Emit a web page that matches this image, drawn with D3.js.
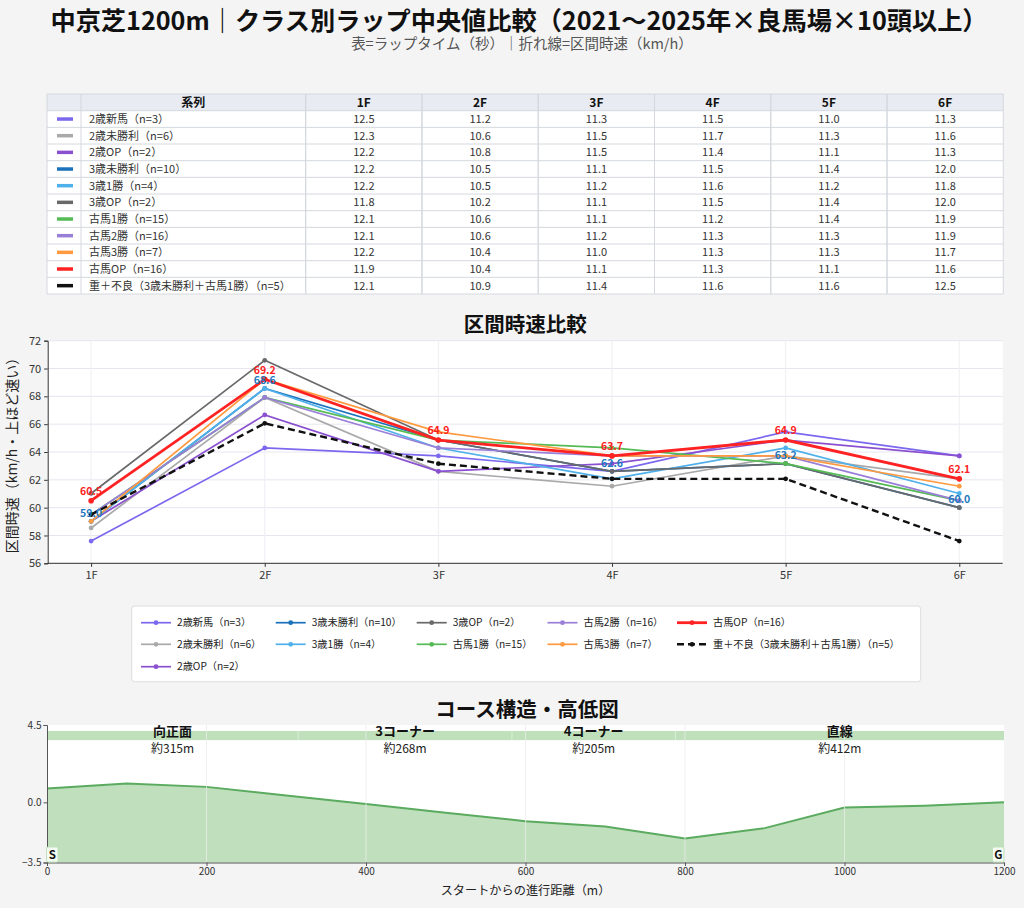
<!DOCTYPE html>
<html><head><meta charset="utf-8">
<script src="https://cdn.jsdelivr.net/npm/d3@7"></script>
<style>
body{margin:0;background:#f4f4f4;}
svg{display:block}
text{font-family:"Noto Sans CJK JP","Noto Sans","DejaVu Sans",sans-serif}
</style>
</head><body><svg id="c" width="1024" height="908"></svg>
<script>
// ---------- DATA ----------
const seriesNames = ["2歳新馬（n=3）","2歳未勝利（n=6）","2歳OP（n=2）","3歳未勝利（n=10）","3歳1勝（n=4）","3歳OP（n=2）","古馬1勝（n=15）","古馬2勝（n=16）","古馬3勝（n=7）","古馬OP（n=16）","重＋不良（3歳未勝利＋古馬1勝）（n=5）"];
const seriesColors = ["#7b68ee","#a9a9a9","#8a50d0","#1a72bb","#4fb0ea","#696969","#55bb55","#9a7fd8","#ff9a40","#ff2222","#111111"];
const sections = ["1F","2F","3F","4F","5F","6F"];
// lap times (sec) shown in the table
const lap2yNew   = [12.5,11.2,11.3,11.5,11.0,11.3];
const lap2yMaiden= [12.3,10.6,11.5,11.7,11.3,11.6];
const lap2yOP    = [12.2,10.8,11.5,11.4,11.1,11.3];
const lap3yMaiden= [12.2,10.5,11.1,11.5,11.4,12.0];
const lap3y1win  = [12.2,10.5,11.2,11.6,11.2,11.8];
const lap3yOP    = [11.8,10.2,11.1,11.5,11.4,12.0];
const lapOld1win = [12.1,10.6,11.1,11.2,11.4,11.9];
const lapOld2win = [12.1,10.6,11.2,11.3,11.3,11.9];
const lapOld3win = [12.2,10.4,11.0,11.3,11.3,11.7];
const lapOldOP   = [11.9,10.4,11.1,11.3,11.1,11.6];
const lapHeavy   = [12.1,10.9,11.4,11.6,11.6,12.5];
const lapTable = [lap2yNew,lap2yMaiden,lap2yOP,lap3yMaiden,lap3y1win,lap3yOP,lapOld1win,lapOld2win,lapOld3win,lapOldOP,lapHeavy];
// section speeds (km/h)
const spd2yNew   = [57.60,64.29,63.72,62.61,65.45,63.72];
const spd2yMaiden= [58.54,67.92,62.61,61.54,63.72,62.07];
const spd2yOP    = [59.02,66.67,62.61,63.16,64.86,63.72];
const spd3yMaiden= [59.02,68.57,64.86,62.61,63.16,60.00];
const spd3y1win  = [59.02,68.57,64.29,62.07,64.29,61.02];
const spd3yOP    = [61.02,70.59,64.86,62.61,63.16,60.00];
const spdOld1win = [59.50,67.92,64.86,64.29,63.16,60.50];
const spdOld2win = [59.50,67.92,64.29,63.72,63.72,60.50];
const spdOld3win = [59.02,69.23,65.45,63.72,63.72,61.54];
const spdOldOP   = [60.50,69.23,64.86,63.72,64.86,62.07];
const spdHeavy   = [59.50,66.06,63.16,62.07,62.07,57.60];
const speedSeries = [spd2yNew,spd2yMaiden,spd2yOP,spd3yMaiden,spd3y1win,spd3yOP,spdOld1win,spdOld2win,spdOld3win,spdOldOP,spdHeavy];
const speedTicks = [56,58,60,62,64,66,68,70,72];
// annotated values
const redLabelIdx  = [0,1,2,3,4,5];   // 古馬OP
const blueLabelIdx = [0,1,3,4,5];     // 3歳未勝利
// course profile
const elevDist   = [0,100,200,300,400,500,600,700,800,900,1000,1100,1200];
const elevHeight = [0.8,1.1,0.9,0.4,-0.1,-0.6,-1.1,-1.4,-2.1,-1.5,-0.3,-0.2,0.0];
const elevTicks  = [-3.5,0.0,4.5];
const distTicks  = [0,200,400,600,800,1000,1200];
const courseNames = ["向正面","3コーナー","4コーナー","直線"];
const courseStart = [0,315,583,788];
const courseEnd   = [315,583,788,1200];
const courseLenLabels = ["約315m","約268m","約205m","約412m"];

// ---------- DRAW ----------
const svg = d3.select("#c");
svg.append("rect").attr("width",1024).attr("height",908).attr("fill","#f4f4f4");

svg.append("text").attr("x",519).attr("y",29.5).attr("text-anchor","middle")
  .attr("font-size",25.2).attr("font-weight","bold").attr("fill","#111")
  .text("中京芝1200m｜クラス別ラップ中央値比較（2021〜2025年×良馬場×10頭以上）");
svg.append("text").attr("x",522).attr("y",48.5).attr("text-anchor","middle")
  .attr("font-size",14.5).attr("fill","#555")
  .text("表=ラップタイム（秒）｜折れ線=区間時速（km/h）");

// ---- table ----
const tX0 = 47, tSw = 81, tLab = 305.7, tX1 = 1003.3;
const tHeadTop = 94, tHeadBot = 110.7, tBot = 294;
const colX = d3.scaleBand().domain(sections).range([tLab,tX1]);
const rowY = d3.scaleBand().domain(seriesNames).range([tHeadBot,tBot]);
const tg = svg.append("g");
tg.append("rect").attr("x",tX0).attr("y",tHeadTop).attr("width",tX1-tX0).attr("height",tHeadBot-tHeadTop).attr("fill","#e8ecf2");
tg.append("rect").attr("x",tX0).attr("y",tHeadBot).attr("width",tX1-tX0).attr("height",tBot-tHeadBot).attr("fill","#ffffff");
const vlines = [tX0,tSw,tLab].concat(sections.map(s=>colX(s)+colX.bandwidth())).concat(sections.map(s=>colX(s)));
vlines.forEach(x=>tg.append("line").attr("x1",x).attr("x2",x).attr("y1",tHeadTop).attr("y2",tBot).attr("stroke","#d4d8de").attr("stroke-width",1));
[tHeadTop].concat(seriesNames.map(n=>rowY(n))).concat([tBot]).forEach(y=>
  tg.append("line").attr("x1",tX0).attr("x2",tX1).attr("y1",y).attr("y2",y).attr("stroke","#d4d8de").attr("stroke-width",1));
tg.append("text").attr("x",(tSw+tLab)/2).attr("y",(tHeadTop+tHeadBot)/2).attr("dy","0.36em").attr("text-anchor","middle")
  .attr("font-size",12).attr("font-weight","bold").attr("fill","#111").text("系列");
sections.forEach(s=>tg.append("text").attr("x",colX(s)+colX.bandwidth()/2).attr("y",(tHeadTop+tHeadBot)/2).attr("dy","0.36em")
  .attr("text-anchor","middle").attr("font-size",12).attr("font-weight","bold").attr("fill","#111").text(s));
seriesNames.forEach((n,i)=>{
  const cy = rowY(n)+rowY.bandwidth()/2;
  tg.append("line").attr("x1",57).attr("x2",73).attr("y1",cy).attr("y2",cy).attr("stroke",seriesColors[i]).attr("stroke-width",3.5);
  tg.append("text").attr("x",89).attr("y",cy).attr("dy","0.36em").attr("font-size",11).attr("fill","#333").text(n);
  lapTable[i].forEach((v,j)=>tg.append("text").attr("x",colX(sections[j])+colX.bandwidth()/2).attr("y",cy).attr("dy","0.36em")
    .attr("text-anchor","middle").attr("font-size",11).attr("fill","#333").text(v.toFixed(1)));
});

// ---- line chart ----
const lx0 = 47.7, lx1 = 1002.7, ly0 = 340.7, ly1 = 563.3;
const x = d3.scalePoint().domain(sections).range([lx0,lx1]).padding(0.25);
const y = d3.scaleLinear().domain([56,72]).range([ly1,ly0]);
const lg = svg.append("g");
lg.append("rect").attr("x",lx0).attr("y",ly0).attr("width",lx1-lx0).attr("height",ly1-ly0).attr("fill","#fff");
lg.append("g").selectAll("line").data(speedTicks).join("line")
  .attr("x1",lx0).attr("x2",lx1).attr("y1",d=>y(d)).attr("y2",d=>y(d)).attr("stroke","#e6e6f0").attr("stroke-width",1);
lg.append("g").selectAll("line").data(sections).join("line")
  .attr("x1",d=>x(d)).attr("x2",d=>x(d)).attr("y1",ly0).attr("y2",ly1).attr("stroke","#eeeef4").attr("stroke-width",1);
svg.append("text").attr("x",(lx0+lx1)/2).attr("y",332).attr("text-anchor","middle")
  .attr("font-size",20.5).attr("font-weight","bold").attr("fill","#111").text("区間時速比較");
const yAx = lg.append("g").attr("transform",`translate(${lx0},0)`).call(d3.axisLeft(y).tickValues(speedTicks).tickSize(3.5).tickPadding(3));
const xAx = lg.append("g").attr("transform",`translate(0,${ly1})`).call(d3.axisBottom(x).tickSize(3.5).tickPadding(4));
xAx.select(".domain").attr("d",`M${lx0},0H${lx1}`);
[yAx,xAx].forEach(a=>{a.selectAll("path,line").attr("stroke","#333");a.selectAll("text").attr("font-size",11).attr("fill","#333").attr("font-family",null);});
svg.append("text").attr("transform","translate(17,452) rotate(-90)").attr("text-anchor","middle")
  .attr("font-size",14).attr("fill","#222").text("区間時速（km/h・上ほど速い）");
const line = d3.line().x((d,j)=>x(sections[j])).y(d=>y(d));
speedSeries.forEach((s,i)=>{
  const isRed = i===9, isBlack = i===10;
  lg.append("path").datum(s).attr("d",line).attr("fill","none").attr("stroke",seriesColors[i])
    .attr("stroke-width",isRed?2.8:(isBlack?2.4:1.7)).attr("stroke-dasharray",isBlack?"7,4":null);
  lg.append("g").selectAll("circle").data(s).join("circle")
    .attr("cx",(d,j)=>x(sections[j])).attr("cy",d=>y(d)).attr("r",isRed?2.8:2.4).attr("fill",seriesColors[i]);
});
blueLabelIdx.forEach(j=>lg.append("text").attr("x",x(sections[j])).attr("y",y(spd3yMaiden[j])-8.5).attr("dy","0.36em")
  .attr("text-anchor","middle").attr("font-size",10.5).attr("font-weight","bold").attr("fill","#1f78c0").text(spd3yMaiden[j].toFixed(1)));
redLabelIdx.forEach(j=>lg.append("text").attr("x",x(sections[j])).attr("y",y(spdOldOP[j])-9.5).attr("dy","0.36em")
  .attr("text-anchor","middle").attr("font-size",10.5).attr("font-weight","bold").attr("fill","#ff2222").text(spdOldOP[j].toFixed(1)));

// ---- legend ----
const leg = svg.append("g");
leg.append("rect").attr("x",131.7).attr("y",606).attr("width",789).attr("height",75.7).attr("rx",3)
  .attr("fill","#fff").attr("stroke","#dddddd");
const legColX = [141,275.7,416.7,547.5,677];
const legRowY = [622.7,644.3,666.7];
const legPos = [[0,0],[0,1],[0,2],[1,0],[1,1],[2,0],[2,1],[3,0],[3,1],[4,0],[4,1]];
seriesNames.forEach((n,i)=>{
  const lx = legColX[legPos[i][0]], ly = legRowY[legPos[i][1]];
  const isBlack = i===10, isRed = i===9;
  leg.append("line").attr("x1",lx).attr("x2",lx+30).attr("y1",ly).attr("y2",ly).attr("stroke",seriesColors[i])
    .attr("stroke-width",isRed?2.8:(isBlack?2.4:1.7)).attr("stroke-dasharray",isBlack?"7,4":null);
  leg.append("circle").attr("cx",lx+15).attr("cy",ly).attr("r",2.4).attr("fill",seriesColors[i]);
  leg.append("text").attr("x",lx+36).attr("y",ly).attr("dy","0.36em").attr("font-size",10.2).attr("fill","#222").text(n);
});

// ---- course profile ----
const cx0 = 47, cx1 = 1004, cy0 = 725, cy1 = 862.5;
const cxS = d3.scaleLinear().domain([0,1200]).range([cx0,cx1]);
const cyS = d3.scaleLinear().domain([-3.5,4.5]).range([cy1,cy0]);
const cg = svg.append("g");
svg.append("text").attr("x",527).attr("y",717).attr("text-anchor","middle")
  .attr("font-size",20.5).attr("font-weight","bold").attr("fill","#111").text("コース構造・高低図");
cg.append("rect").attr("x",cx0).attr("y",cy0).attr("width",cx1-cx0).attr("height",cy1-cy0).attr("fill","#fff");
courseNames.forEach((n,i)=>{
  cg.append("rect").attr("x",cxS(courseStart[i])).attr("y",cyS(4.15)).attr("width",cxS(courseEnd[i])-cxS(courseStart[i]))
    .attr("height",cyS(3.62)-cyS(4.15)).attr("fill","#bfe0bb");
  if(i>0) cg.append("line").attr("x1",cxS(courseStart[i])).attr("x2",cxS(courseStart[i])).attr("y1",cyS(4.15)).attr("y2",cyS(3.62))
    .attr("stroke","#d8ecd5").attr("stroke-width",1);
});
const area = d3.area().x((d,i)=>cxS(elevDist[i])).y0(cyS(-3.5)).y1(d=>cyS(d));
cg.append("path").datum(elevHeight).attr("d",area).attr("fill","#c0dfbc");
cg.append("path").datum(elevHeight).attr("d",d3.line().x((d,i)=>cxS(elevDist[i])).y(d=>cyS(d)))
  .attr("fill","none").attr("stroke","#5aab5f").attr("stroke-width",2);
cg.append("g").selectAll("line").data(distTicks.slice(1,-1)).join("line")
  .attr("x1",d=>cxS(d)).attr("x2",d=>cxS(d)).attr("y1",cy0).attr("y2",cy1).attr("stroke","rgba(235,235,235,0.75)").attr("stroke-width",1);
courseNames.forEach((n,i)=>{
  const mx = cxS((courseStart[i]+courseEnd[i])/2);
  cg.append("text").attr("x",mx).attr("y",731).attr("dy","0.36em").attr("text-anchor","middle")
    .attr("font-size",13).attr("font-weight","bold").attr("fill","#111").text(n);
  cg.append("text").attr("x",mx).attr("y",749).attr("dy","0.36em").attr("text-anchor","middle")
    .attr("font-size",12).attr("fill","#222").text(courseLenLabels[i]);
});
const cyAx = cg.append("g").attr("transform",`translate(${cx0},0)`).call(d3.axisLeft(cyS).tickValues(elevTicks).tickFormat(d3.format(".1f")).tickSize(3.5).tickPadding(2));
const cxAx = cg.append("g").attr("transform",`translate(0,${cy1})`).call(d3.axisBottom(cxS).tickValues(distTicks).tickFormat(d3.format("d")).tickSize(3.5).tickPadding(2));
[cyAx,cxAx].forEach(a=>{a.selectAll("path,line").attr("stroke","#555");a.selectAll("text").attr("font-size",10).attr("fill","#333").attr("font-family",null);});
cg.append("text").attr("x",(cx0+cx1)/2).attr("y",891).attr("dy","0.36em").attr("text-anchor","middle")
  .attr("font-size",12.2).attr("fill","#222").text("スタートからの進行距離（m）");
[["S",0,"start"],["G",1200,"end"]].forEach(([t,d,anc])=>{
  const px = cxS(d);
  const bx = anc==="start"?px-0.5:px-11.5;
  cg.append("rect").attr("x",bx).attr("y",847).attr("width",11.5).attr("height",15).attr("rx",1.5)
    .attr("fill","#f4fbf3").attr("stroke","#bfe0bb");
  cg.append("text").attr("x",bx+5.75).attr("y",854.5).attr("dy","0.36em").attr("text-anchor","middle")
    .attr("font-size",11.5).attr("font-weight","bold").attr("fill","#111").text(t);
});
</script></body></html>
